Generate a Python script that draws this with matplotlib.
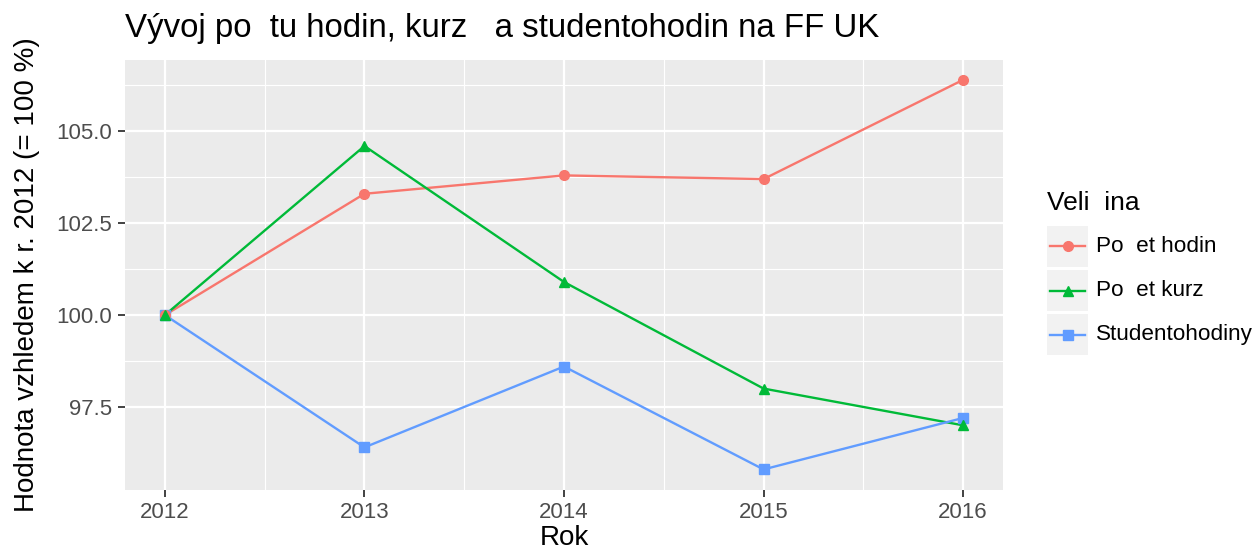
import matplotlib
matplotlib.use("Agg")
import matplotlib.pyplot as plt
from matplotlib.lines import Line2D
from matplotlib.patches import Rectangle

plt.rcParams['font.family'] = ['Liberation Sans', 'DejaVu Sans']

# data
roky = [2012, 2013, 2014, 2015, 2016]
hodiny = [100.0, 103.3, 103.8, 103.7, 106.4]
kurzy = [100.0, 104.6, 100.9, 98.0, 97.0]
studentohodiny = [100.0, 96.4, 98.6, 95.8, 97.2]
nazvy = ['Po  et hodin', 'Po  et kurz', 'Studentohodiny']
barvy = ['#F8766D', '#00BA38', '#619CFF']
znacky = ['o', '^', 's']
y_ticks = [97.5, 100.0, 102.5, 105.0]

W, H = 1257, 552
fig = plt.figure(figsize=(W / 100, H / 100), dpi=100)
ax = fig.add_axes([125 / W, 1 - 490 / H, (1003 - 125) / W, (490 - 60) / H])
ax.set_facecolor('#EBEBEB')

# nejdriv cary, pak body (zelene nahore jako v originale)
poradi_bodu = {'s': 4, 'o': 5, '^': 6}
for vals, c, m in zip([hodiny, kurzy, studentohodiny], barvy, znacky):
    ax.plot(roky, vals, color=c, lw=1.7, zorder=3)
    ax.plot(roky, vals, color=c, lw=0, marker=m, ms=7 if m != 's' else 6.5,
            zorder=poradi_bodu[m])

ax.set_xlim(2011.8, 2016.2)
ax.set_ylim(95.24, 106.94)
ax.set_xticks(roky)
ax.set_yticks(y_ticks)
ax.set_yticklabels(['97.5', '100.0', '102.5', '105.0'])
ax.set_xticks([2012.5, 2013.5, 2014.5, 2015.5], minor=True)
ax.set_yticks([98.75, 101.25, 103.75, 106.25], minor=True)
ax.grid(which='major', color='white', lw=1.6)
ax.grid(which='minor', color='white', lw=0.8)
ax.set_axisbelow(True)
for s in ax.spines.values():
    s.set_visible(False)
ax.tick_params(which='major', length=5, width=1.3, color='#333333', labelcolor='#4D4D4D',
               labelsize=16, pad=4)
ax.tick_params(which='minor', length=0)

ax.set_xlabel('Rok', fontsize=20, labelpad=1)
ax.set_ylabel('Hodnota vzhledem k r. 2012 (= 100 %)', fontsize=20, labelpad=12)
fig.text(125 / W, 1 - 28 / H, 'Vývoj po  tu hodin, kurz   a studentohodin na FF UK',
         fontsize=23.8, ha='left', va='center')

# legenda
fig.text(1047 / W, 1 - 203 / H, 'Veli  ina', fontsize=19, ha='left', va='center')
for i, (n, c, m) in enumerate(zip(nazvy, barvy, znacky)):
    top = 226 + i * 44
    fig.add_artist(Rectangle((1047 / W, 1 - (top + 41) / H), 41 / W, 41 / H,
                             transform=fig.transFigure, facecolor='#F2F2F2', edgecolor='none'))
    yc = 1 - (top + 20.5) / H
    fig.add_artist(Line2D([1050 / W, 1085 / W], [yc, yc], transform=fig.transFigure,
                          color=c, lw=1.7))
    fig.add_artist(Line2D([1067.5 / W], [yc], transform=fig.transFigure, color=c,
                          marker=m, ms=7 if m != 's' else 6.5))
    fig.text(1096 / W, yc, n, fontsize=16.2, ha='left', va='center')

fig.savefig('out.png', dpi=100)
